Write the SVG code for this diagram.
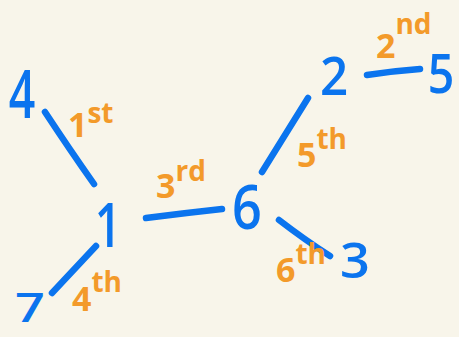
<svg xmlns="http://www.w3.org/2000/svg" width="459" height="337" viewBox="0 0 459 337">
<style>
.bg{fill:#f8f5ea}
.e{stroke:#0b74ee;stroke-width:6.5;stroke-linecap:round;fill:none}
.n{fill:#0b74ee;font-family:"Open Sans","DejaVu Sans",sans-serif;font-weight:600;font-size:58px;text-anchor:middle}
.l{fill:#f39a2a;font-family:"Open Sans","DejaVu Sans",sans-serif;font-weight:700;font-size:34px}
.s{font-size:28px}
</style>
<rect class="bg" x="0" y="0" width="459" height="337"/>
<g id="connectors">
<path class="e" d="M45,112 Q70,150 94,184"/>
<path class="e" d="M96,246 L52,293"/>
<path class="e" d="M146,218 Q185,213 222,209"/>
<path class="e" d="M308,98 Q285,135 262,172"/>
<path class="e" d="M367,75 Q393,71 420,69"/>
<path class="e" d="M279,220 Q305,240 330,256"/>
</g>
<g id="edge-labels">
<text class="l" x="68" y="137">1<tspan class="s" dy="-14">st</tspan></text>
<text class="l" x="156" y="198">3<tspan class="s" dy="-17">rd</tspan></text>
<text class="l" x="72" y="311">4<tspan class="s" dy="-19">th</tspan></text>
<text class="l" x="376" y="58">2<tspan class="s" dy="-24">nd</tspan></text>
<text class="l" x="297" y="167">5<tspan class="s" dy="-18">th</tspan></text>
<text class="l" x="276" y="282">6<tspan class="s" dy="-18">th</tspan></text>
</g>
<g id="node-4"><text class="n" transform="translate(22,118) scale(0.8,1.15)">4</text></g>
<g id="node-1"><text class="n" transform="translate(108,247) scale(0.8,1.05)">1</text></g>
<g id="node-7"><text class="n" transform="translate(30,322) scale(0.9,0.7)">7</text></g>
<g id="node-6"><text class="n" transform="translate(247,229) scale(0.9,1.05)">6</text></g>
<g id="node-2"><text class="n" transform="translate(334,95) scale(0.85,0.9)">2</text></g>
<g id="node-5"><text class="n" transform="translate(441,93) scale(0.8,0.95)">5</text></g>
<g id="node-3"><text class="n" transform="translate(355,278) scale(0.9,0.85)">3</text></g>
</svg>
